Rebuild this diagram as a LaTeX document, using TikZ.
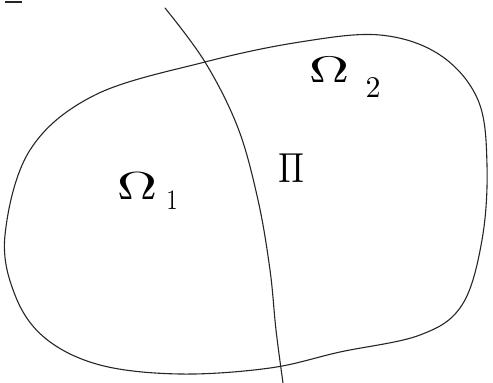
\documentclass[tikz,border=0pt]{standalone}
\usepackage{graphicx}
\begin{document}
\begin{tikzpicture}[x=1pt,y=-1pt,
  sketch/.style={line width=1.1pt,draw=black!85,line cap=round,line join=round},
  lbl/.style={inner sep=0pt}]
\useasboundingbox (0,0) rectangle (493,383);
% domain boundary
\draw[sketch] plot[smooth cycle,tension=0.6] coordinates {
  (5,235) (30,150) (95,95) (205,62) (300,42) (380,35) (440,55) (478,100)
  (487,165) (482,240) (462,305) (420,335) (340,352) (270,368)
  (180,374) (100,365) (45,338) (15,295)};
% interface
\coordinate (itop) at (165,8);
\coordinate (ibot) at (283,383);
\draw[sketch] plot[smooth,tension=0.6] coordinates {
  (itop) (205,62) (238,128) (258,200) (270,270) (276,330) (ibot)};
% mark at top-left corner
\draw[line width=2pt,black!85] (5,1.5) -- (22,1.5);
% labels
\node[lbl] (o1) at (137,186) {\scalebox{5.6}[3.9]{$\Omega$}};
\node[lbl] (s1) at (172,200) {\scalebox{2.2}[2.8]{$1$}};
\node[lbl] (o2) at (329,70) {\scalebox{5.6}[3.7]{$\Omega$}};
\node[lbl] (s2) at (373,88) {\scalebox{3.0}[3.0]{$2$}};
\node[lbl] (g) at (291,168) {\scalebox{3.4}[4.2]{$\Pi$}};
\end{tikzpicture}
\end{document}
